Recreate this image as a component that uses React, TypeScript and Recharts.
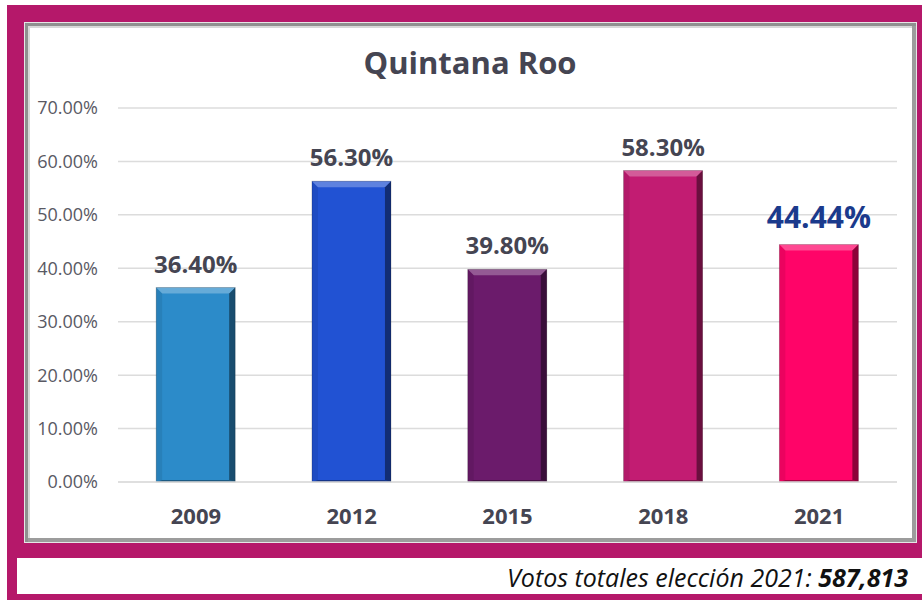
import React from 'react';
import { BarChart, Bar, XAxis, YAxis, CartesianGrid, Cell, LabelList } from 'recharts';

const years = ['2009', '2012', '2015', '2018', '2021'];
const participation = [36.4, 56.3, 39.8, 58.3, 44.44];
const barColors = ['#2C8BC9', '#2152D3', '#6B1B6B', '#C21C72', '#FF0468'];
const yTicks = [0, 10, 20, 30, 40, 50, 60, 70];
const title = 'Quintana Roo';
const footerLabel = 'Votos totales elección 2021: ';
const footerValue = '587,813';

const data = years.map((y, i) => ({ year: y, value: participation[i] }));

const FONT = '"Open Sans", "DejaVu Sans", sans-serif';

const BevelBar = (props: any) => {
  const { x, y, width, height, fill } = props;
  if (!height || height <= 0) return null;
  const b = 6;
  return (
    <g>
      <rect x={x} y={y} width={width} height={height} fill={fill} />
      <polygon points={`${x},${y} ${x + width},${y} ${x + width - b},${y + b} ${x + b},${y + b}`} fill="#ffffff" fillOpacity={0.28} />
      <polygon points={`${x},${y} ${x + b},${y + b} ${x + b},${y + height - 2} ${x},${y + height}`} fill="#000000" fillOpacity={0.08} />
      <polygon points={`${x + width},${y} ${x + width},${y + height} ${x + width - b},${y + height - 2} ${x + width - b},${y + b}`} fill="#000000" fillOpacity={0.45} />
      <polygon points={`${x},${y + height} ${x + width},${y + height} ${x + width - b},${y + height - 2} ${x + b},${y + height - 2}`} fill="#000000" fillOpacity={0.35} />
      <rect x={x} y={y} width={width} height={height} fill="none" stroke="#000" strokeOpacity={0.25} strokeWidth={0.8} />
    </g>
  );
};

const renderLabel = (props: any) => {
  const { x, y, width, value, index } = props;
  const last = index === participation.length - 1;
  return (
    <text
      x={x + width / 2}
      y={y - (last ? 17 : 15)}
      textAnchor="middle"
      fontFamily={FONT}
      fontWeight={700}
      fontSize={last ? 30 : 24}
      fill={last ? '#1B3A8C' : '#454552'}
    >
      {Number(value).toFixed(2) + '%'}
    </text>
  );
};

export default function App() {
  return (
    <div style={{ position: 'absolute', left: 0, top: 0, width: 922, height: 600, background: '#ffffff' }}>
      <div style={{ position: 'absolute', left: 7, top: 5, width: 915, height: 595, background: '#B5186A' }} />
      <div
        style={{
          position: 'absolute',
          left: 24,
          top: 22,
          width: 893,
          height: 521,
          boxSizing: 'border-box',
          background: '#ffffff',
          border: '1px solid #e6e6e6',
          boxShadow: 'inset 3px 3px 0 #8f8f8f, inset -4px -4px 0 #9c9c9c, inset 5px 5px 0 #d8d8d8',
        }}
      />
      <div style={{ position: 'absolute', left: 17, top: 558, width: 905, height: 36, background: '#ffffff' }} />
      <div
        style={{
          position: 'absolute',
          left: 0,
          top: 40,
          width: 940,
          textAlign: 'center',
          fontFamily: FONT,
          fontWeight: 700,
          fontSize: 31,
          color: '#454552',
          lineHeight: '44px',
        }}
      >
        {title}
      </div>
      <div
        style={{
          position: 'absolute',
          right: 14,
          top: 559,
          fontFamily: FONT,
          fontStyle: 'italic',
          fontSize: 25,
          color: '#111111',
          lineHeight: '36px',
          whiteSpace: 'nowrap',
        }}
      >
        {footerLabel}
        <span style={{ fontWeight: 700 }}>{footerValue}</span>
      </div>
      <div style={{ position: 'absolute', left: 0, top: 0 }}>
        <BarChart width={922} height={600} data={data} margin={{ top: 108, right: 25, bottom: 88, left: 18 }} barCategoryGap="24.5%">
          <CartesianGrid vertical={false} stroke="#dcdcdc" strokeWidth={1.5} />
          <XAxis
            dataKey="year"
            axisLine={{ stroke: '#dcdcdc', strokeWidth: 1.5 }}
            tickLine={false}
            tickMargin={20}
            tick={{ fontFamily: FONT, fontWeight: 700, fontSize: 22, fill: '#454552' }}
          />
          <YAxis
            width={100}
            domain={[0, 70]}
            ticks={yTicks}
            axisLine={false}
            tickLine={false}
            tickMargin={14}
            tickFormatter={(v: number) => v.toFixed(2) + '%'}
            tick={{ fontFamily: FONT, fontSize: 18, fill: '#595963' }}
          />
          <Bar dataKey="value" isAnimationActive={false} shape={<BevelBar />}>
            {data.map((d, i) => (
              <Cell key={d.year} fill={barColors[i]} />
            ))}
            <LabelList dataKey="value" content={renderLabel} />
          </Bar>
        </BarChart>
      </div>
    </div>
  );
}
